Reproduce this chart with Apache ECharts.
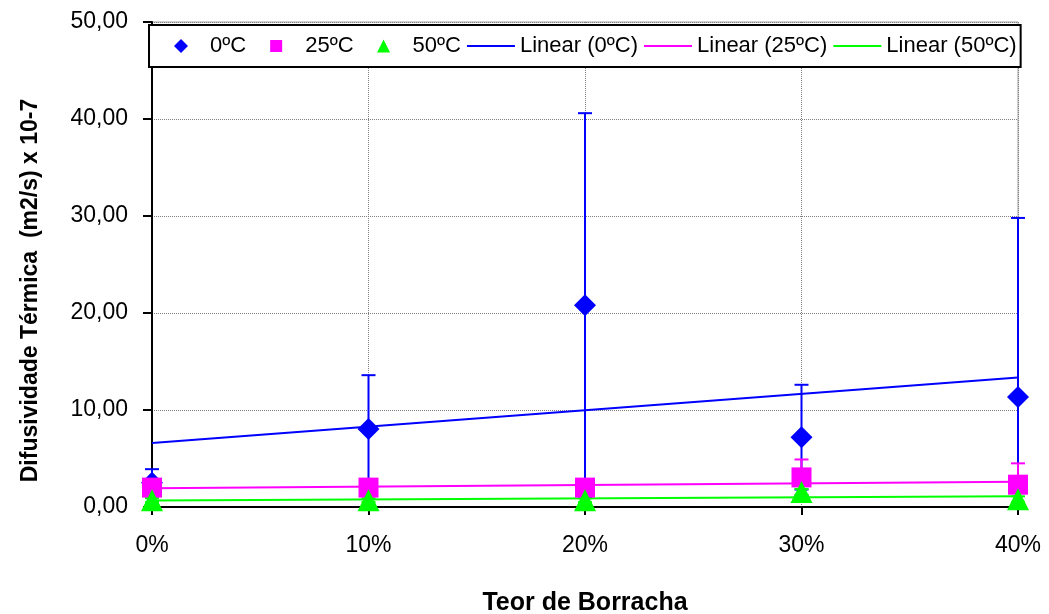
<!DOCTYPE html>
<html>
<head>
<meta charset="utf-8">
<script src="https://cdn.jsdelivr.net/npm/echarts@6/dist/echarts.min.js"></script>
<style>
  html, body { margin: 0; padding: 0; background: #ffffff; }
  #chart { width: 1049px; height: 614px; }
</style>
</head>
<body>
<div id="chart"></div>
<script>
// Teor de borracha (%) on the horizontal axis
const rubberContent = [0, 10, 20, 30, 40];

// Difusividade térmica (m2/s x 10-7) and the error-bar half widths, per temperature
const diff0C = [2.5, 8.04, 20.8, 7.2, 11.35];
const err0C = [1.4, 5.55, 19.8, 5.4, 18.45];

const diff25C = [2.0, 2.0, 2.0, 3.05, 2.3];
const err25C = [0.4, 0.4, 0.4, 1.85, 2.2];

const diff50C = [0.7, 0.7, 0.7, 1.55, 0.8];
const err50C = [0.2, 0.2, 0.2, 0.3, 0.3];

const seriesNames = ['0ºC', '25ºC', '50ºC'];
const trendNames = ['Linear (0ºC)', 'Linear (25ºC)', 'Linear (50ºC)'];
const colors = ['#0000ff', '#ff00ff', '#00ff00'];
const symbols = ['diamond', 'rect', 'triangle'];
const symbolSizes = [22, 20, 22];

const FONT = 'Liberation Sans, Arial, sans-serif';

// legend glyphs drawn inside a full 48x14 box (the leading moves pin the box corners),
// so every entry keeps the same icon slot and the glyph keeps its proportions
const BOX = 'M0,0 M48,14 ';
const LEGEND_ICONS = [
  'path://' + BOX + 'M24,0 L31,7 L24,14 L17,7 Z',
  'path://' + BOX + 'M18,1 L30,1 L30,13 L18,13 Z',
  'path://' + BOX + 'M24,0.5 L30.5,13.5 L17.5,13.5 Z'
];
const LINE_ICON = 'path://' + BOX + 'M0,6 L48,6 L48,8 L0,8 Z';

// least-squares straight line, evaluated at the ends of the x range
function linearTrend(xs, ys) {
  const n = xs.length;
  const mx = xs.reduce((a, b) => a + b, 0) / n;
  const my = ys.reduce((a, b) => a + b, 0) / n;
  let sxy = 0, sxx = 0;
  for (let i = 0; i < n; i++) {
    sxy += (xs[i] - mx) * (ys[i] - my);
    sxx += (xs[i] - mx) * (xs[i] - mx);
  }
  const slope = sxy / sxx;
  const icpt = my - slope * mx;
  const x0 = xs[0], x1 = xs[n - 1];
  return [[x0, icpt + slope * x0], [x1, icpt + slope * x1]];
}

// vertical error bar with caps; a bar running past the axis floor stops there without a cap
function errorBarSeries(values, errs, color) {
  const data = rubberContent.map((x, i) => [x, values[i] - errs[i], values[i] + errs[i]]);
  return {
    type: 'custom',
    clip: false,
    silent: true,
    z: 2,
    data: data,
    renderItem: function (params, api) {
      const x = api.value(0);
      const low = api.value(1);
      const lo = api.coord([x, Math.max(low, 0)]);
      const hi = api.coord([x, api.value(2)]);
      const half = 7;
      const style = { stroke: color, lineWidth: 2 };
      const children = [
        { type: 'line', shape: { x1: lo[0], y1: lo[1], x2: hi[0], y2: hi[1] }, style: style },
        { type: 'line', shape: { x1: hi[0] - half, y1: hi[1], x2: hi[0] + half, y2: hi[1] }, style: style }
      ];
      if (low >= 0) {
        children.push({ type: 'line', shape: { x1: lo[0] - half, y1: lo[1], x2: lo[0] + half, y2: lo[1] }, style: style });
      }
      return { type: 'group', children: children };
    }
  };
}

const allValues = [diff0C, diff25C, diff50C];
const allErrs = [err0C, err25C, err50C];

const series = [];
// trend lines underneath the markers
allValues.forEach((vals, k) => {
  series.push({
    name: trendNames[k],
    type: 'line',
    data: linearTrend(rubberContent, vals),
    symbol: 'none',
    z: 1,
    lineStyle: { color: colors[k], width: 2 },
    itemStyle: { color: colors[k] },
    silent: true
  });
});
// error bars and markers, one temperature at a time
allValues.forEach((vals, k) => {
  series.push(errorBarSeries(vals, allErrs[k], colors[k]));
  series.push({
    name: seriesNames[k],
    type: 'scatter',
    data: rubberContent.map((x, i) => [x, vals[i]]),
    symbol: symbols[k],
    symbolSize: symbolSizes[k],
    z: 2,
    itemStyle: { color: colors[k], opacity: 1 }
  });
});

const chart = echarts.init(document.getElementById('chart'), null, { renderer: 'canvas' });
chart.setOption({
  animation: false,
  backgroundColor: '#ffffff',
  grid: {
    left: 152, right: 31, top: 22, bottom: 107,
    outerBoundsMode: 'none',
    containLabel: false,
    show: true, borderColor: '#a0a0a0', borderWidth: 1, backgroundColor: 'transparent'
  },
  legend: {
    left: 149, top: 25,
    backgroundColor: '#ffffff',
    borderColor: '#000000', borderWidth: 2,
    padding: [10, 4, 10, 8],
    itemWidth: 48, itemHeight: 14, itemGap: 6,
    symbolKeepAspect: true,
    textStyle: { fontFamily: FONT, fontSize: 22, color: '#000000' },
    data: [
      { name: seriesNames[0], icon: LEGEND_ICONS[0] },
      { name: seriesNames[1], icon: LEGEND_ICONS[1] },
      { name: seriesNames[2], icon: LEGEND_ICONS[2] },
      { name: trendNames[0], icon: LINE_ICON },
      { name: trendNames[1], icon: LINE_ICON },
      { name: trendNames[2], icon: LINE_ICON }
    ],
    selectedMode: false
  },
  xAxis: {
    type: 'value',
    min: 0, max: 40, interval: 10,
    name: 'Teor de Borracha',
    nameLocation: 'middle',
    nameGap: 84,
    nameTextStyle: { fontFamily: FONT, fontSize: 25, fontWeight: 'bold', color: '#000000' },
    axisLine: { onZero: false, lineStyle: { color: '#000000', width: 2 } },
    axisTick: { show: true, inside: false, length: 8, lineStyle: { color: '#000000', width: 2 } },
    axisLabel: {
      margin: 27, fontFamily: FONT, fontSize: 23, color: '#000000',
      formatter: v => v + '%'
    },
    splitLine: { show: true, lineStyle: { color: '#808080', type: 'dotted', width: 1 } }
  },
  yAxis: {
    type: 'value',
    min: 0, max: 50, interval: 10,
    name: 'Difusividade Térmica  (m2/s) x 10-7',
    nameLocation: 'middle',
    nameGap: 110,
    nameTextStyle: {
      fontFamily: FONT, fontSize: 23, fontWeight: 'bold', color: '#000000',
      padding: [0, 52, 0, 0]
    },
    axisLine: { show: true, lineStyle: { color: '#000000', width: 2 } },
    axisTick: { show: true, inside: false, length: 9, lineStyle: { color: '#000000', width: 2 } },
    axisLabel: {
      margin: 24, fontFamily: FONT, fontSize: 23, color: '#000000',
      formatter: v => v.toFixed(2).replace('.', ',')
    },
    splitLine: { show: true, lineStyle: { color: '#808080', type: 'dotted', width: 1 } }
  },
  series: series
});
</script>
</body>
</html>
